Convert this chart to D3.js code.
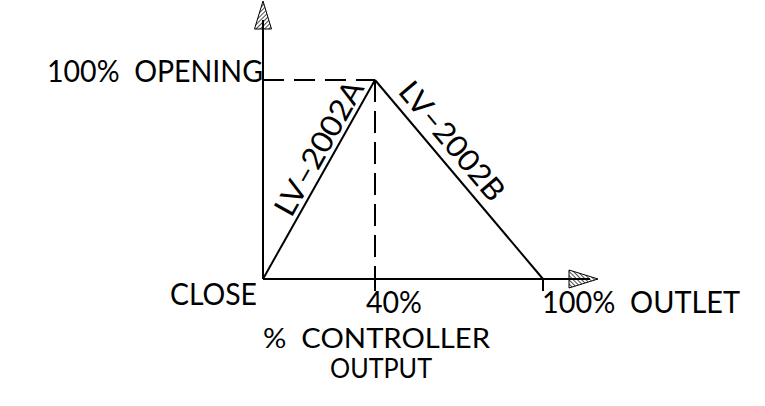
<!DOCTYPE html>
<html>
<head>
<meta charset="utf-8">
<script src="https://cdn.jsdelivr.net/npm/d3@7"></script>
<style>
  html, body { margin: 0; padding: 0; background: #fff; }
  svg { display: block; }
  text { font-family: 'Lato', 'Open Sans', 'DejaVu Sans Condensed', sans-serif; font-weight: 400; font-size: 30px; fill: #000; white-space: pre; }
</style>
</head>
<body>
<svg id="chart" width="765" height="406"></svg>
<script>
// ---- data ----
const xValues = [0, 40, 100];                 // % controller output
const seriesNames = ["LV–2002A", "LV–2002B"];
const lv2002A_x = [0, 40];
const lv2002A_y = [0, 100];
const lv2002B_x = [40, 100];
const lv2002B_y = [100, 0];
const yTickValues = [0, 100];
const yTickLabels = ["CLOSE", "100%  OPENING"];
const xTickValues = [40, 100];
const xTickLabels = ["40%", "100%  OUTLET"];
const xTitleLines = ["%  CONTROLLER", "OUTPUT"];

// ---- layout ----
const svg = d3.select("#chart");
const x = d3.scaleLinear().domain([0, 100]).range([263, 543]);
const y = d3.scaleLinear().domain([0, 100]).range([279, 80]);

const defs = svg.append("defs");
defs.append("pattern")
  .attr("id", "hatchY").attr("patternUnits", "userSpaceOnUse")
  .attr("width", 3).attr("height", 3).attr("patternTransform", "rotate(45)")
  .append("line").attr("x1", 0).attr("y1", 0).attr("x2", 0).attr("y2", 3)
  .attr("stroke", "#000").attr("stroke-width", 1.4);
defs.append("pattern")
  .attr("id", "hatchX").attr("patternUnits", "userSpaceOnUse")
  .attr("width", 3).attr("height", 3).attr("patternTransform", "rotate(-45)")
  .append("line").attr("x1", 0).attr("y1", 0).attr("x2", 0).attr("y2", 3)
  .attr("stroke", "#000").attr("stroke-width", 1.4);

const x0 = x(0), y0 = y(0);

// axes lines
svg.append("line").attr("x1", x0).attr("y1", y0).attr("x2", x0).attr("y2", 20)
  .attr("stroke", "#000").attr("stroke-width", 2);
svg.append("line").attr("x1", x0).attr("y1", y0).attr("x2", 590).attr("y2", y0)
  .attr("stroke", "#000").attr("stroke-width", 2);

// arrowheads
svg.append("path")
  .attr("d", `M${x0},1 L${x0 - 8.5},29 L${x0 + 8.5},29 Z`)
  .attr("fill", "url(#hatchY)").attr("stroke", "#000").attr("stroke-width", 1);
svg.append("path")
  .attr("d", `M598,${y0} L569,${y0 - 9} L569,${y0 + 9} Z`)
  .attr("fill", "url(#hatchX)").attr("stroke", "#000").attr("stroke-width", 1);

// dashed guides to the peak
const peakX = x(lv2002A_x[1]), peakY = y(lv2002A_y[1]);
svg.append("line").attr("x1", x0).attr("y1", peakY).attr("x2", peakX).attr("y2", peakY)
  .attr("stroke", "#000").attr("stroke-width", 2).attr("stroke-dasharray", "21,10");
svg.append("line").attr("x1", peakX).attr("y1", peakY).attr("x2", peakX).attr("y2", y0)
  .attr("stroke", "#000").attr("stroke-width", 2).attr("stroke-dasharray", "22,9");

// ticks below axis
xTickValues.forEach(v => {
  svg.append("line").attr("x1", x(v)).attr("y1", y0).attr("x2", x(v)).attr("y2", y0 + 12)
    .attr("stroke", "#000").attr("stroke-width", 2);
});

// series lines
const line = d3.line().x(d => x(d[0])).y(d => y(d[1]));
const seriesA = d3.zip(lv2002A_x, lv2002A_y);
const seriesB = d3.zip(lv2002B_x, lv2002B_y);
[seriesA, seriesB].forEach(s => {
  svg.append("path").attr("d", line(s)).attr("fill", "none")
    .attr("stroke", "#000").attr("stroke-width", 2);
});

// series labels along lines
function labelAlong(s, name, t, off, len) {
  const p1 = [x(s[0][0]), y(s[0][1])], p2 = [x(s[1][0]), y(s[1][1])];
  const ang = Math.atan2(p2[1] - p1[1], p2[0] - p1[0]) * 180 / Math.PI;
  const px = p1[0] + (p2[0] - p1[0]) * t, py = p1[1] + (p2[1] - p1[1]) * t;
  svg.append("text")
    .attr("transform", `translate(${px},${py}) rotate(${ang})`)
    .attr("x", 0).attr("y", -off)
    .attr("text-anchor", "middle")
    .attr("textLength", len).attr("lengthAdjust", "spacingAndGlyphs")
    .text(name);
}
labelAlong(seriesA, seriesNames[0], 0.62, 5, 150);
labelAlong(seriesB, seriesNames[1], 0.37, 9, 146);

// text labels
function label(txt, tx, ty, anchor, len, fs) {
  const t = svg.append("text").attr("x", tx).attr("y", ty).attr("text-anchor", anchor)
    .attr("textLength", len).attr("lengthAdjust", "spacingAndGlyphs").text(txt);
  if (fs) t.style("font-size", fs + "px");
}
label(yTickLabels[1], 263, 82, "end", 216);
label(yTickLabels[0], 257, 305, "end", 87);
label(xTickLabels[0], 366, 313, "start", 56);
label(xTickLabels[1], 542, 313, "start", 198);
label(xTitleLines[0], 376.5, 348, "middle", 227, 26);
label(xTitleLines[1], 381, 377.5, "middle", 102, 26);
</script>
</body>
</html>
